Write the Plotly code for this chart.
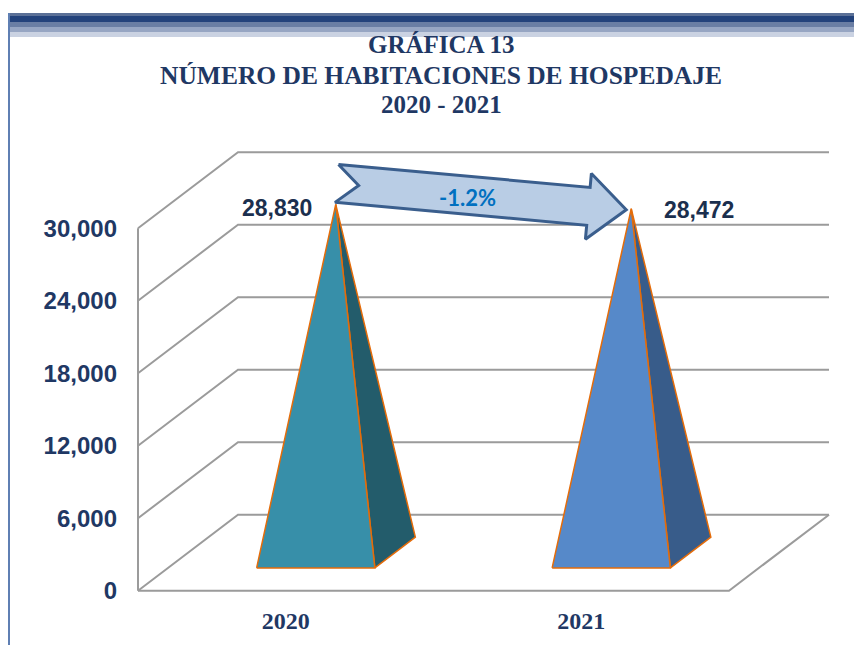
import math
import plotly.graph_objects as go

# ---------------- data ----------------
categories = ["2020", "2021"]
values = [28830, 28472]
value_labels = ["28,830", "28,472"]
y_ticks = [0, 6000, 12000, 18000, 24000, 30000]
y_tick_labels = ["0", "6,000", "12,000", "18,000", "24,000", "30,000"]
title_lines = ["GRÁFICA 13", "NÚMERO DE HABITACIONES DE HOSPEDAJE", "2020 - 2021"]
front_colors = ["#378FA9", "#5689C9"]
side_colors = ["#235C6B", "#385C8A"]

# ---------------- layout geometry (page pixels) ----------------
W, H = 862, 645
OFF = 8                                      # page body margin of the html
PL, PR, PT, PB = 128, 840, 140, 600          # plot area (page coords)
X0_PX = 138.0                                # front-left corner of the 3D box
CAT_PX = 295.5                               # pixels per category on front plane
Y0_PX = 590.7                                # pixel of value 0 on front plane
VAL_PX = 362.4 / 30000.0                     # pixels per value unit
DEPTH_DX_PX, DEPTH_DY_PX = 100.0, 76.0       # depth offset of back wall

DX = DEPTH_DX_PX / CAT_PX
DY = DEPTH_DY_PX / VAL_PX
NCAT = len(categories)
YMAX = max(y_ticks)

x_range = [(PL - X0_PX) / CAT_PX, (PR - X0_PX) / CAT_PX]
y_range = [-(PB - Y0_PX) / VAL_PX, (Y0_PX - PT) / VAL_PX]


def to_px(x, y):
    return X0_PX + x * CAT_PX, Y0_PX - y * VAL_PX


def to_data(px, py):
    return (px - X0_PX) / CAT_PX, (Y0_PX - py) / VAL_PX


def paper_x(px):
    return (px - PL) / (PR - PL)


def paper_y(py):
    return (PB - py) / (PB - PT)


GRID = "#9B9B9B"
NAVY = "#1F3864"
ORANGE = "#E46C0A"

fig = go.Figure()

# ---------------- 3D box grid ----------------
gx, gy = [], []
for v in y_ticks:
    gx += [0, DX, NCAT + DX, None]
    gy += [v, v + DY, v + DY, None]
gx += [0, NCAT, NCAT + DX, None, 0, 0, None]
gy += [0, 0, DY, None, 0, YMAX, None]
fig.add_trace(go.Scatter(x=gx, y=gy, mode="lines",
                         line=dict(color=GRID, width=2),
                         hoverinfo="skip", showlegend=False))

# ---------------- pyramids ----------------
HW = 0.2
D_FRONT, D_BACK, D_APEX = 0.30, 0.705, 0.5
apexes = []
for k, v in enumerate(values):
    xc = k + 0.5
    fl = (xc - HW + D_FRONT * DX, D_FRONT * DY)
    fr = (xc + HW + D_FRONT * DX, D_FRONT * DY)
    br = (xc + HW + D_BACK * DX, D_BACK * DY)
    ap = (xc + D_APEX * DX, v + D_APEX * DY)
    apexes.append(ap)
    fig.add_trace(go.Scatter(
        x=[fr[0], br[0], ap[0], fr[0]], y=[fr[1], br[1], ap[1], fr[1]],
        mode="lines", fill="toself", fillcolor=side_colors[k],
        line=dict(color=ORANGE, width=1.5), hoverinfo="skip", showlegend=False))
    fig.add_trace(go.Scatter(
        x=[fl[0], fr[0], ap[0], fl[0]], y=[fl[1], fr[1], ap[1], fl[1]],
        mode="lines", fill="toself", fillcolor=front_colors[k],
        line=dict(color=ORANGE, width=1.5), hoverinfo="skip", showlegend=False))

# ---------------- change arrow ----------------
a0 = to_px(*apexes[0])
a1 = to_px(*apexes[1])
tail = (a0[0] + 1.0, a0[1] - 21.0)
tip = (a1[0] - 5.0, a1[1] + 1.0)
L = math.hypot(tip[0] - tail[0], tip[1] - tail[1])
ex, ey = (tip[0] - tail[0]) / L, (tip[1] - tail[1]) / L
nx, ny = -ey, ex
S, HH, HL, NOTCH = 19.0, 33.0, 38.0, 22.0
local = [(0, -S), (L - HL, -S), (L - HL, -HH), (L, 0), (L - HL, HH),
         (L - HL, S), (0, S), (NOTCH, 0), (0, -S)]
ax_, ay_ = [], []
for u, w in local:
    px = tail[0] + u * ex + w * nx
    py = tail[1] + u * ey + w * ny
    dx_, dy_ = to_data(px, py)
    ax_.append(dx_)
    ay_.append(dy_)
fig.add_trace(go.Scatter(x=ax_, y=ay_, mode="lines", fill="toself",
                         fillcolor="#B9CDE5", line=dict(color="#3A5E8D", width=3),
                         hoverinfo="skip", showlegend=False))

pct = (values[1] - values[0]) / values[0] * 100
mid_u = 131.0
mid_px = (tail[0] + mid_u * ex, tail[1] + mid_u * ey + 2)
mx, my = to_data(*mid_px)
annotations = [dict(x=mx, y=my, xref="x", yref="y", text=f"{pct:.1f}%",
                    showarrow=False, textangle=0,
                    font=dict(family="Lato", size=22, color="#0070C0", weight="bold"))]

# ---------------- value labels ----------------
annotations.append(dict(x=apexes[0][0], y=apexes[0][1], xref="x", yref="y",
                        text=value_labels[0], showarrow=False, xanchor="right",
                        yanchor="middle", xshift=-22, yshift=-4,
                        font=dict(family="Liberation Sans", size=23, color="#1B2F4E",
                                  weight="bold")))
annotations.append(dict(x=apexes[1][0], y=apexes[1][1], xref="x", yref="y",
                        text=value_labels[1], showarrow=False, xanchor="left",
                        yanchor="middle", xshift=31, yshift=-1,
                        font=dict(family="Liberation Sans", size=23, color="#1B2F4E",
                                  weight="bold")))

# ---------------- title ----------------
title_y = [45, 76, 104]
title_sizes = [25, 25.5, 25]
for t, ty, ts in zip(title_lines, title_y, title_sizes):
    annotations.append(dict(x=paper_x(441), y=paper_y(ty), xref="paper", yref="paper",
                            text=t, showarrow=False, xanchor="center", yanchor="middle",
                            font=dict(family="Liberation Serif", size=ts, color=NAVY,
                                      weight="bold")))

# ---------------- page decoration ----------------
shapes = []
bands = [(13, 16, "#5B7097"), (16, 22, "#23427B"), (22, 27, "#6A7EA4"),
         (27, 32, "#97A6C3"), (32, 37, "#CAD2E2")]
for y0, y1, c in bands:
    shapes.append(dict(type="rect", xref="paper", yref="paper",
                       x0=paper_x(8), x1=paper_x(W + OFF), y0=paper_y(y1), y1=paper_y(y0),
                       fillcolor=c, line=dict(width=0), layer="below"))
shapes.append(dict(type="line", xref="paper", yref="paper",
                   x0=paper_x(9), x1=paper_x(9), y0=paper_y(13), y1=paper_y(H + OFF),
                   line=dict(color="#5F7FB3", width=2)))

fig.update_layout(
    width=W, height=H,
    margin=dict(l=PL - OFF, r=W - (PR - OFF), t=PT - OFF, b=H - (PB - OFF), pad=0),
    paper_bgcolor="white", plot_bgcolor="white",
    showlegend=False,
    annotations=annotations,
    shapes=shapes,
    xaxis=dict(range=x_range, showgrid=False, zeroline=False, showline=False,
               tickmode="array", tickvals=[k + 0.5 for k in range(NCAT)],
               ticktext=categories, ticks="", ticklabelstandoff=4,
               tickfont=dict(family="Liberation Serif", size=24, color=NAVY,
                             weight="bold"),
               fixedrange=True),
    yaxis=dict(range=y_range, showgrid=False, zeroline=False, showline=False,
               tickmode="array", tickvals=y_ticks, ticktext=y_tick_labels,
               ticks="", ticklabelstandoff=10,
               tickfont=dict(family="Liberation Sans", size=24, color=NAVY,
                             weight="bold"),
               fixedrange=True),
)

fig.write_html("out.html")
